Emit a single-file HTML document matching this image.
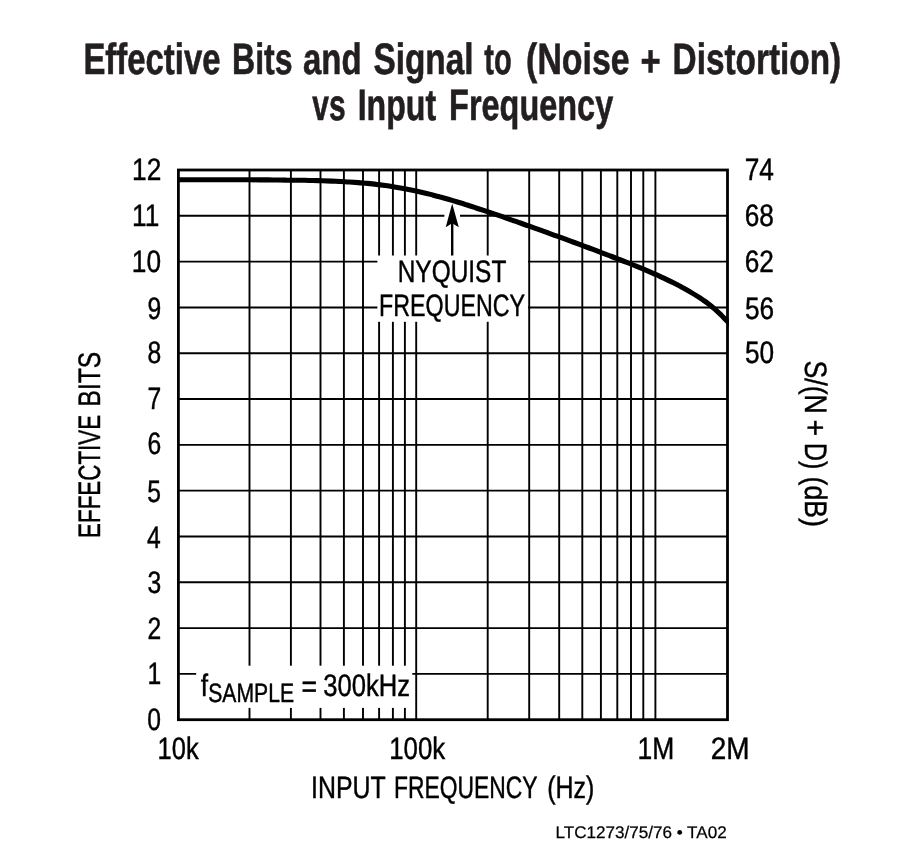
<!DOCTYPE html>
<html><head><meta charset="utf-8"><title>Effective Bits and Signal to (Noise + Distortion) vs Input Frequency</title>
<style>html,body{margin:0;padding:0;background:#fff}svg{display:block}text{font-family:"Liberation Sans",sans-serif;text-rendering:geometricPrecision}</style>
</head><body>
<svg width="912" height="862" viewBox="0 0 912 862">
<defs><clipPath id="cp"><rect x="177.0" y="168.6" width="551.9" height="552.5"/></clipPath></defs>
<rect width="912" height="862" fill="#fff"/>
<path d="M249.5 170.0V719.7M290.9 170.0V719.7M320.5 170.0V719.7M343.9 170.0V719.7M363.0 170.0V719.7M379.1 170.0V719.7M392.9 170.0V719.7M404.9 170.0V719.7M416.2 170.0V719.7M487.7 170.0V719.7M529.2 170.0V719.7M559.2 170.0V719.7M582.3 170.0V719.7M600.9 170.0V719.7M617.3 170.0V719.7M631.0 170.0V719.7M643.3 170.0V719.7M655.4 170.0V719.7M178.4 215.81H727.5M178.4 261.62H727.5M178.4 307.43H727.5M178.4 353.23H727.5M178.4 399.04H727.5M178.4 444.85H727.5M178.4 490.66H727.5M178.4 536.47H727.5M178.4 582.28H727.5M178.4 628.08H727.5M178.4 673.89H727.5" stroke="#000" stroke-width="1.9" fill="none"/>
<rect x="377.4" y="255.5" width="150.6" height="66.3" fill="#fff"/>
<rect x="196.2" y="665.7" width="216.1" height="42.2" fill="#fff"/>
<rect x="444.4" y="205" width="15.6" height="22" fill="#fff"/>
<rect x="178.4" y="170.0" width="549.1" height="549.7" fill="none" stroke="#000" stroke-width="2.8"/>
<path d="M178.4 179.7C179.9 179.7 184.4 179.7 187.4 179.7C190.4 179.7 193.4 179.7 196.4 179.7C199.4 179.7 202.4 179.7 205.4 179.7C208.4 179.7 211.4 179.7 214.4 179.7C217.4 179.7 220.4 179.7 223.4 179.7C226.4 179.7 229.4 179.8 232.4 179.8C235.4 179.8 238.4 179.8 241.4 179.8C244.4 179.8 247.4 179.8 250.4 179.8C253.4 179.8 256.4 179.8 259.4 179.9C262.4 179.9 265.4 179.9 268.4 179.9C271.4 179.9 274.4 180.0 277.4 180.0C280.4 180.0 283.4 180.0 286.4 180.1C289.4 180.1 292.4 180.1 295.4 180.2C298.4 180.2 301.4 180.3 304.4 180.3C307.4 180.4 310.4 180.5 313.4 180.5C316.4 180.6 319.4 180.7 322.4 180.8C325.4 180.9 328.4 181.0 331.4 181.1C334.4 181.2 337.4 181.4 340.4 181.5C343.4 181.7 346.4 181.8 349.4 182.0C352.4 182.2 355.4 182.4 358.4 182.6C361.4 182.9 364.4 183.1 367.4 183.4C370.4 183.7 373.4 184.0 376.4 184.4C379.4 184.7 382.4 185.1 385.4 185.5C388.4 185.9 391.4 186.4 394.4 186.9C397.4 187.4 400.4 187.9 403.4 188.4C406.4 189.0 409.4 189.6 412.4 190.2C415.4 190.8 418.4 191.5 421.4 192.2C424.4 192.9 427.4 193.6 430.4 194.4C433.4 195.2 436.4 195.9 439.4 196.8C442.4 197.6 445.4 198.4 448.4 199.3C451.4 200.2 454.4 201.1 457.4 202.0C460.4 202.9 463.4 203.8 466.4 204.8C469.4 205.7 472.4 206.7 475.4 207.7C478.4 208.6 481.4 209.6 484.4 210.6C487.4 211.6 490.4 212.6 493.4 213.7C496.4 214.7 499.4 215.7 502.4 216.7C505.4 217.8 508.4 218.8 511.4 219.9C514.4 220.9 517.4 222.0 520.4 223.0C523.4 224.1 526.4 225.2 529.4 226.2C532.4 227.3 535.4 228.4 538.4 229.4C541.4 230.5 544.4 231.6 547.4 232.7C550.4 233.8 553.4 234.8 556.4 235.9C559.4 237.0 562.4 238.1 565.4 239.2C568.4 240.3 571.4 241.4 574.4 242.5C577.4 243.6 580.4 244.7 583.4 245.8C586.4 246.9 589.4 248.1 592.4 249.2C595.4 250.3 598.4 251.4 601.4 252.6C604.4 253.7 607.4 254.8 610.4 256.0C613.4 257.1 616.4 258.3 619.4 259.5C622.4 260.6 625.4 261.8 628.4 263.0C631.4 264.2 634.4 265.4 637.4 266.7C640.4 267.9 643.4 269.1 646.4 270.4C649.4 271.7 652.4 273.0 655.4 274.3C658.4 275.7 661.4 277.0 664.4 278.4C667.4 279.9 670.4 281.3 673.4 282.8C676.4 284.3 679.4 285.8 682.4 287.5C685.4 289.1 688.5 290.8 691.4 292.6C694.3 294.3 697.9 296.6 700.0 297.9C702.1 299.3 702.7 299.7 704.0 300.7C705.3 301.6 706.7 302.6 708.0 303.6C709.3 304.6 710.7 305.7 712.0 306.8C713.3 307.9 714.7 309.0 716.0 310.2C717.3 311.4 718.7 312.6 720.0 313.9C721.3 315.2 722.8 316.6 724.0 317.9C725.2 319.2 726.2 320.2 727.5 321.6C728.8 323.0 730.8 325.5 731.5 326.2" stroke="#000" stroke-width="5.1" fill="none" clip-path="url(#cp)"/>
<path d="M452.2 255.5V222" stroke="#000" stroke-width="2.4" fill="none"/>
<path d="M452.2 203.4L458.8 227.3L452.2 223.2L445.7 227.3Z" fill="#000"/>
<text transform="translate(83.38 74.00) scale(0.7493 1)" font-size="43.9" font-weight="700" fill="#231f20" stroke="#231f20" stroke-width="0.6" vector-effect="non-scaling-stroke">Effective</text>
<text transform="translate(232.04 74.00) scale(0.7294 1)" font-size="43.9" font-weight="700" fill="#231f20" stroke="#231f20" stroke-width="0.6" vector-effect="non-scaling-stroke">Bits</text>
<text transform="translate(303.01 74.00) scale(0.7514 1)" font-size="43.9" font-weight="700" fill="#231f20" stroke="#231f20" stroke-width="0.6" vector-effect="non-scaling-stroke">and</text>
<text transform="translate(373.40 74.00) scale(0.7611 1)" font-size="43.9" font-weight="700" fill="#231f20" stroke="#231f20" stroke-width="0.6" vector-effect="non-scaling-stroke">Signal</text>
<text transform="translate(484.34 74.00) scale(0.6610 1)" font-size="43.9" font-weight="700" fill="#231f20" stroke="#231f20" stroke-width="0.6" vector-effect="non-scaling-stroke">to</text>
<text transform="translate(526.11 74.00) scale(0.7717 1)" font-size="43.9" font-weight="700" fill="#231f20" stroke="#231f20" stroke-width="0.6" vector-effect="non-scaling-stroke">(Noise</text>
<text transform="translate(640.53 76.00) scale(0.7882 1)" font-size="43.9" font-weight="700" fill="#231f20" stroke="#231f20" stroke-width="0.6" vector-effect="non-scaling-stroke">+</text>
<text transform="translate(672.55 74.00) scale(0.7598 1)" font-size="43.9" font-weight="700" fill="#231f20" stroke="#231f20" stroke-width="0.6" vector-effect="non-scaling-stroke">Distortion)</text>
<text transform="translate(312.35 120.00) scale(0.6823 1)" font-size="43.9" font-weight="700" fill="#231f20" stroke="#231f20" stroke-width="0.6" vector-effect="non-scaling-stroke">vs</text>
<text transform="translate(357.63 120.00) scale(0.7318 1)" font-size="43.9" font-weight="700" fill="#231f20" stroke="#231f20" stroke-width="0.6" vector-effect="non-scaling-stroke">Input</text>
<text transform="translate(449.11 120.00) scale(0.7393 1)" font-size="43.9" font-weight="700" fill="#231f20" stroke="#231f20" stroke-width="0.6" vector-effect="non-scaling-stroke">Frequency</text>
<text transform="translate(132.06 180.00) scale(0.8466 1)" font-size="31.0" fill="#000" stroke="#000" stroke-width="0.45" vector-effect="non-scaling-stroke">12</text>
<text transform="translate(131.99 226.00) scale(0.8466 1)" font-size="31.0" fill="#000" stroke="#000" stroke-width="0.45" vector-effect="non-scaling-stroke">11</text>
<text transform="translate(131.83 272.00) scale(0.8466 1)" font-size="31.0" fill="#000" stroke="#000" stroke-width="0.45" vector-effect="non-scaling-stroke">10</text>
<text transform="translate(147.49 318.50) scale(0.7958 1)" font-size="31.0" fill="#000" stroke="#000" stroke-width="0.45" vector-effect="non-scaling-stroke">9</text>
<text transform="translate(147.43 363.00) scale(0.7958 1)" font-size="31.0" fill="#000" stroke="#000" stroke-width="0.45" vector-effect="non-scaling-stroke">8</text>
<text transform="translate(147.62 409.00) scale(0.7958 1)" font-size="31.0" fill="#000" stroke="#000" stroke-width="0.45" vector-effect="non-scaling-stroke">7</text>
<text transform="translate(147.43 454.00) scale(0.7958 1)" font-size="31.0" fill="#000" stroke="#000" stroke-width="0.45" vector-effect="non-scaling-stroke">6</text>
<text transform="translate(147.37 502.00) scale(0.7958 1)" font-size="31.0" fill="#000" stroke="#000" stroke-width="0.45" vector-effect="non-scaling-stroke">5</text>
<text transform="translate(147.06 548.00) scale(0.7958 1)" font-size="31.0" fill="#000" stroke="#000" stroke-width="0.45" vector-effect="non-scaling-stroke">4</text>
<text transform="translate(147.43 593.00) scale(0.7958 1)" font-size="31.0" fill="#000" stroke="#000" stroke-width="0.45" vector-effect="non-scaling-stroke">3</text>
<text transform="translate(147.62 639.00) scale(0.7958 1)" font-size="31.0" fill="#000" stroke="#000" stroke-width="0.45" vector-effect="non-scaling-stroke">2</text>
<text transform="translate(147.56 684.00) scale(0.7958 1)" font-size="31.0" fill="#000" stroke="#000" stroke-width="0.45" vector-effect="non-scaling-stroke">1</text>
<text transform="translate(147.31 730.00) scale(0.7958 1)" font-size="31.0" fill="#000" stroke="#000" stroke-width="0.45" vector-effect="non-scaling-stroke">0</text>
<text transform="translate(744.65 180.00) scale(0.8466 1)" font-size="31.0" fill="#000" stroke="#000" stroke-width="0.45" vector-effect="non-scaling-stroke">74</text>
<text transform="translate(744.71 226.00) scale(0.8466 1)" font-size="31.0" fill="#000" stroke="#000" stroke-width="0.45" vector-effect="non-scaling-stroke">68</text>
<text transform="translate(744.71 272.00) scale(0.8466 1)" font-size="31.0" fill="#000" stroke="#000" stroke-width="0.45" vector-effect="non-scaling-stroke">62</text>
<text transform="translate(744.98 318.50) scale(0.8466 1)" font-size="31.0" fill="#000" stroke="#000" stroke-width="0.45" vector-effect="non-scaling-stroke">56</text>
<text transform="translate(744.98 363.00) scale(0.8466 1)" font-size="31.0" fill="#000" stroke="#000" stroke-width="0.45" vector-effect="non-scaling-stroke">50</text>
<text transform="translate(157.62 758.60) scale(0.8214 1)" font-size="31.0" fill="#000" stroke="#000" stroke-width="0.45" vector-effect="non-scaling-stroke">10k</text>
<text transform="translate(389.19 758.60) scale(0.8332 1)" font-size="31.0" fill="#000" stroke="#000" stroke-width="0.45" vector-effect="non-scaling-stroke">100k</text>
<text transform="translate(637.54 758.60) scale(0.8537 1)" font-size="31.0" fill="#000" stroke="#000" stroke-width="0.45" vector-effect="non-scaling-stroke">1M</text>
<text transform="translate(710.73 758.60) scale(0.9009 1)" font-size="31.0" fill="#000" stroke="#000" stroke-width="0.45" vector-effect="non-scaling-stroke">2M</text>
<text transform="translate(311.12 798.00) scale(0.8023 1)" font-size="31.0" fill="#000" stroke="#000" stroke-width="0.45" vector-effect="non-scaling-stroke">INPUT</text>
<text transform="translate(393.94 798.00) scale(0.7374 1)" font-size="31.0" fill="#000" stroke="#000" stroke-width="0.45" vector-effect="non-scaling-stroke">FREQUENCY</text>
<text transform="translate(547.27 798.00) scale(0.8044 1)" font-size="31.0" fill="#000" stroke="#000" stroke-width="0.45" vector-effect="non-scaling-stroke">(Hz)</text>
<text transform="rotate(-90) translate(-537.92 100.40) scale(0.7217 1)" font-size="31.0" fill="#000" stroke="#000" stroke-width="0.45" vector-effect="non-scaling-stroke">EFFECTIVE</text>
<text transform="rotate(-90) translate(-406.40 100.40) scale(0.7932 1)" font-size="31.0" fill="#000" stroke="#000" stroke-width="0.45" vector-effect="non-scaling-stroke">BITS</text>
<text transform="rotate(90) translate(360.53 -805.00) scale(0.8588 1)" font-size="31.0" fill="#000" stroke="#000" stroke-width="0.45" vector-effect="non-scaling-stroke">S/(N</text>
<text transform="rotate(90) translate(419.40 -805.00) scale(0.9212 1)" font-size="31.0" fill="#000" stroke="#000" stroke-width="0.45" vector-effect="non-scaling-stroke">+</text>
<text transform="rotate(90) translate(443.07 -805.00) scale(0.8029 1)" font-size="31.0" fill="#000" stroke="#000" stroke-width="0.45" vector-effect="non-scaling-stroke">D)</text>
<text transform="rotate(90) translate(476.56 -805.00) scale(0.8593 1)" font-size="31.0" fill="#000" stroke="#000" stroke-width="0.45" vector-effect="non-scaling-stroke">(dB)</text>
<text transform="translate(397.71 281.60) scale(0.7882 1)" font-size="31.0" fill="#000" stroke="#000" stroke-width="0.45" vector-effect="non-scaling-stroke">NYQUIST</text>
<text transform="translate(379.01 315.50) scale(0.7504 1)" font-size="31.0" fill="#000" stroke="#000" stroke-width="0.45" vector-effect="non-scaling-stroke">FREQUENCY</text>
<text transform="translate(200.63 695.60) scale(0.8466 1)" font-size="31.0" fill="#000" stroke="#000" stroke-width="0.45" vector-effect="non-scaling-stroke">f</text>
<text transform="translate(208.27 701.70) scale(0.7950 1)" font-size="26.6" fill="#000" stroke="#000" stroke-width="0.45" vector-effect="non-scaling-stroke">SAMPLE</text>
<text transform="translate(301.49 697.00) scale(0.8613 1)" font-size="31.0" fill="#000" stroke="#000" stroke-width="0.45" vector-effect="non-scaling-stroke">=</text>
<text transform="translate(323.16 695.60) scale(0.8259 1)" font-size="31.0" fill="#000" stroke="#000" stroke-width="0.45" vector-effect="non-scaling-stroke">300kHz</text>
<text transform="translate(555.52 838.00) scale(1.0108 1)" font-size="16.9" fill="#000" stroke="#000" stroke-width="0.25" vector-effect="non-scaling-stroke">LTC1273/75/76 • TA02</text>
</svg>
</body></html>
